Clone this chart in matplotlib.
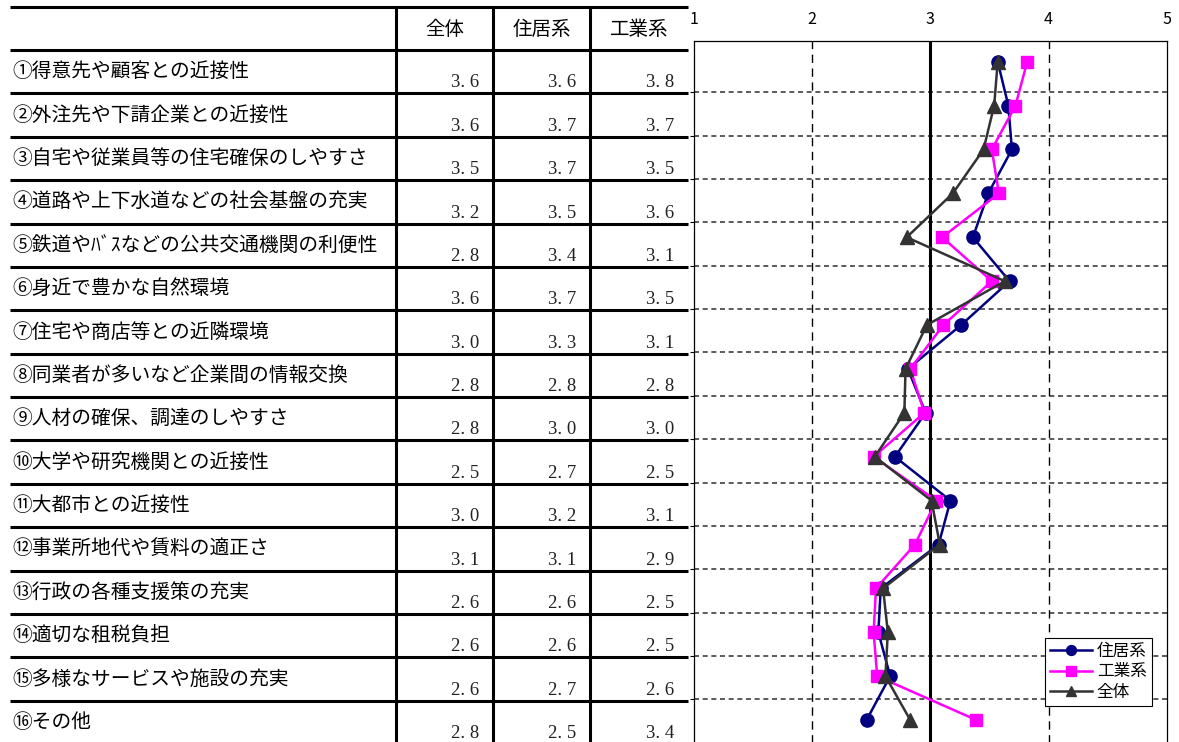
import numpy as np
import matplotlib
matplotlib.use('Agg')
import matplotlib.pyplot as plt

plt.rcParams['font.family'] = ['Noto Sans CJK JP', 'DejaVu Sans']

# 項目
items = ['①得意先や顧客との近接性', '②外注先や下請企業との近接性', '③自宅や従業員等の住宅確保のしやすさ',
         '④道路や上下水道などの社会基盤の充実', '⑤鉄道やﾊﾞｽなどの公共交通機関の利便性', '⑥身近で豊かな自然環境',
         '⑦住宅や商店等との近隣環境', '⑧同業者が多いなど企業間の情報交換', '⑨人材の確保、調達のしやすさ',
         '⑩大学や研究機関との近接性', '⑪大都市との近接性', '⑫事業所地代や賃料の適正さ',
         '⑬行政の各種支援策の充実', '⑭適切な租税負担', '⑮多様なサービスや施設の充実', '⑯その他']
columns = ['全体', '住居系', '工業系']

# table values (as printed)
zentai_tbl = ['3.6', '3.6', '3.5', '3.2', '2.8', '3.6', '3.0', '2.8', '2.8', '2.5', '3.0', '3.1', '2.6', '2.6', '2.6', '2.8']
jukyo_tbl = ['3.6', '3.7', '3.7', '3.5', '3.4', '3.7', '3.3', '2.8', '3.0', '2.7', '3.2', '3.1', '2.6', '2.6', '2.7', '2.5']
kogyo_tbl = ['3.8', '3.7', '3.5', '3.6', '3.1', '3.5', '3.1', '2.8', '3.0', '2.5', '3.1', '2.9', '2.5', '2.5', '2.6', '3.4']

# plotted values
jukyo = [3.57, 3.66, 3.69, 3.49, 3.36, 3.67, 3.26, 2.81, 2.96, 2.70, 3.17, 3.07, 2.58, 2.56, 2.66, 2.46]
kogyo = [3.82, 3.72, 3.52, 3.58, 3.10, 3.52, 3.11, 2.83, 2.95, 2.52, 3.05, 2.87, 2.54, 2.52, 2.55, 3.39]
zentai = [3.57, 3.54, 3.45, 3.19, 2.80, 3.63, 2.97, 2.79, 2.78, 2.53, 3.01, 3.08, 2.60, 2.64, 2.62, 2.83]

W, H = 1179, 742
fig = plt.figure(figsize=(W / 100, H / 100), dpi=100)

# ---- table (pixel coords) ----
bg = fig.add_axes([0, 0, 1, 1])
bg.set_xlim(0, W)
bg.set_ylim(H, 0)
bg.axis('off')

row_h = 43.38
head_top, head_bot = 7, 50
col_x = [396, 493, 590, 688]
lw_t = 2.2
for y in [head_top, head_bot] + [head_bot + row_h * (i + 1) for i in range(len(items))]:
    bg.plot([10, 688], [y, y], color='black', lw=lw_t, solid_capstyle='butt')
for x in col_x[:3]:
    bg.plot([x, x], [head_top, H + 10], color='black', lw=lw_t, solid_capstyle='butt')

for j, c in enumerate(columns):
    bg.text((col_x[j] + col_x[j + 1]) / 2, (head_top + head_bot) / 2 + 1, c,
            ha='center', va='center', fontsize=14)

for i, lab in enumerate(items):
    top = head_bot + row_h * i
    bg.text(12, top + row_h / 2, lab, ha='left', va='center', fontsize=14.2)
    for j, vals in enumerate([zentai_tbl, jukyo_tbl, kogyo_tbl]):
        bg.text(col_x[j + 1] - 14, top + row_h - 6, vals[i].replace('.', '. '),
                ha='right', va='baseline', fontsize=13.5, family='Liberation Serif', color='#222222')

# ---- chart ----
px_top, px_bot = 41, 760
ax = fig.add_axes([694 / W, (H - px_bot) / H, (1166.7 - 694) / W, (px_bot - px_top) / H])
ys = np.arange(len(items))
ax.set_xlim(1, 5)
ax.set_ylim(15.91, -0.472)

grid_y = 0.70 + 0.9875 * np.arange(15)
for g in grid_y:
    ax.axhline(g, color='#404040', lw=1.2, dashes=(3, 2.2), zorder=1)
for xv in [2, 4]:
    ax.axvline(xv, color='black', lw=1.0, dashes=(6, 4), zorder=1)
ax.axvline(3, color='black', lw=2.2, zorder=1)

ax.plot(jukyo, ys, color='#000080', marker='o', ms=9.5, lw=1.8, label='住居系', zorder=3)
ax.plot(kogyo, ys, color='#FF00FF', marker='s', ms=9, lw=1.8, label='工業系', zorder=4)
ax.plot(zentai, ys, color='#333333', marker='^', ms=10.5, lw=1.8, label='全体', zorder=5)

ax.xaxis.tick_top()
ax.set_xticks([1, 2, 3, 4, 5])
ax.tick_params(axis='x', length=0, pad=9, labelsize=11.5)
ax.set_yticks(grid_y)
ax.tick_params(axis='y', length=3, direction='out', labelleft=False, width=0.8)
for s in ax.spines.values():
    s.set_color('black')
    s.set_linewidth(0.9)

leg = ax.legend(loc='upper left', bbox_to_anchor=(1045 / W, 1 - 638 / H), bbox_transform=fig.transFigure,
                borderaxespad=0, fancybox=False, edgecolor='black', framealpha=1, fontsize=12,
                handlelength=2.5, labelspacing=0.2, borderpad=0.3, handletextpad=0.3, markerscale=0.75)
leg.get_frame().set_linewidth(0.8)
leg.set_zorder(10)

fig.savefig('out.png', dpi=100)
